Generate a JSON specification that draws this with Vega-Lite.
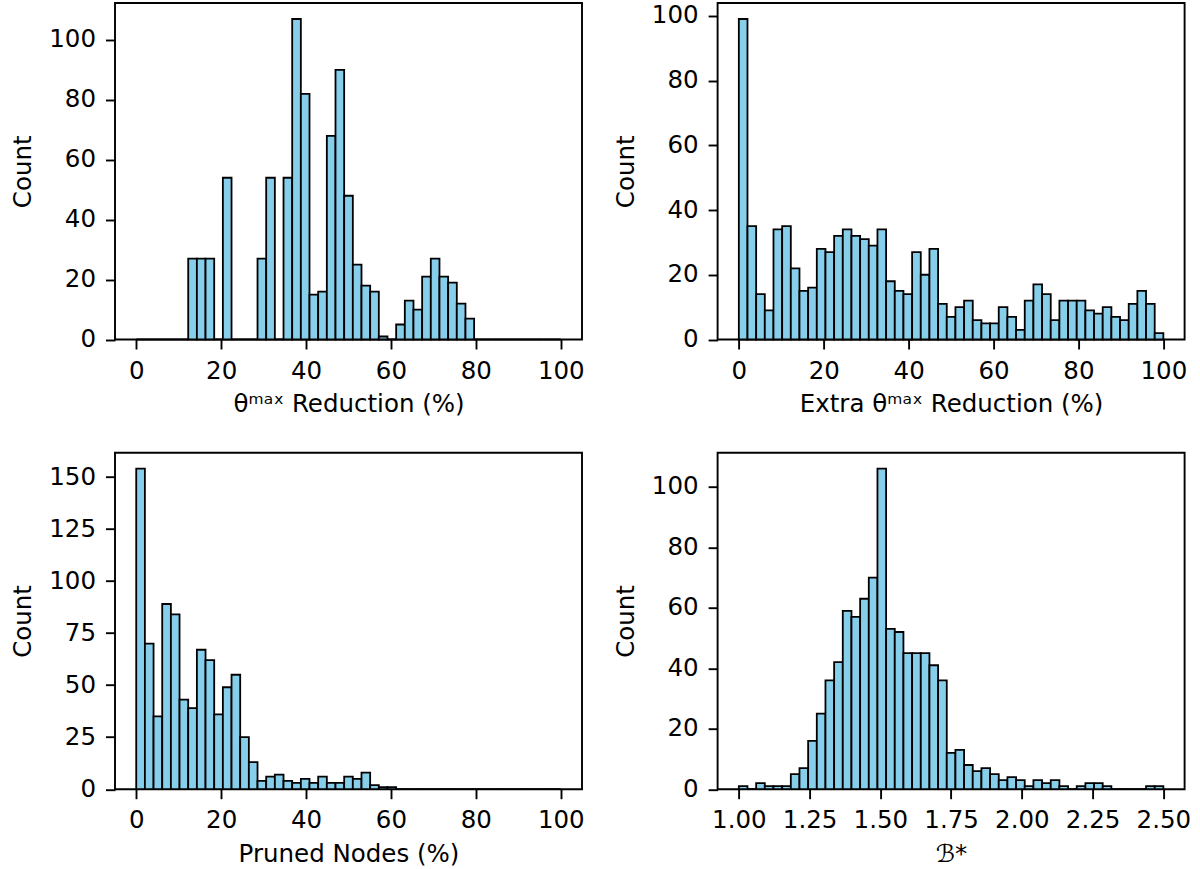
{
  "$schema": "https://vega.github.io/schema/vega-lite/v6.json",
  "background": "white",
  "padding": {"left": 9, "top": 1, "right": 5, "bottom": 5},
  "columns": 2,
  "spacing": {"row": 112.7, "column": 135.6},
  "bounds": "flush",
  "concat": [
    {
      "width": 467, "height": 336.5,
      "data": {"values": [
        {"start":0,"end":2.041,"count":0},{"start":2.041,"end":4.082,"count":0},{"start":4.082,"end":6.122,"count":0},{"start":6.122,"end":8.163,"count":0},{"start":8.163,"end":10.204,"count":0},{"start":10.204,"end":12.245,"count":0},{"start":12.245,"end":14.286,"count":27},{"start":14.286,"end":16.327,"count":27},{"start":16.327,"end":18.367,"count":27},{"start":18.367,"end":20.408,"count":0},{"start":20.408,"end":22.449,"count":54},{"start":22.449,"end":24.49,"count":0},{"start":24.49,"end":26.531,"count":0},{"start":26.531,"end":28.571,"count":0},{"start":28.571,"end":30.612,"count":27},{"start":30.612,"end":32.653,"count":54},{"start":32.653,"end":34.694,"count":0},{"start":34.694,"end":36.735,"count":54},{"start":36.735,"end":38.776,"count":107},{"start":38.776,"end":40.816,"count":82},{"start":40.816,"end":42.857,"count":15},{"start":42.857,"end":44.898,"count":16},{"start":44.898,"end":46.939,"count":68},{"start":46.939,"end":48.98,"count":90},{"start":48.98,"end":51.02,"count":48},{"start":51.02,"end":53.061,"count":25},{"start":53.061,"end":55.102,"count":18},{"start":55.102,"end":57.143,"count":16},{"start":57.143,"end":59.184,"count":1},{"start":59.184,"end":61.224,"count":0},{"start":61.224,"end":63.265,"count":5},{"start":63.265,"end":65.306,"count":13},{"start":65.306,"end":67.347,"count":10},{"start":67.347,"end":69.388,"count":21},{"start":69.388,"end":71.429,"count":27},{"start":71.429,"end":73.469,"count":21},{"start":73.469,"end":75.51,"count":19},{"start":75.51,"end":77.551,"count":12},{"start":77.551,"end":79.592,"count":7},{"start":79.592,"end":81.633,"count":0},{"start":81.633,"end":83.673,"count":0},{"start":83.673,"end":85.714,"count":0},{"start":85.714,"end":87.755,"count":0},{"start":87.755,"end":89.796,"count":0},{"start":89.796,"end":91.837,"count":0},{"start":91.837,"end":93.878,"count":0},{"start":93.878,"end":95.918,"count":0},{"start":95.918,"end":97.959,"count":0},{"start":97.959,"end":100,"count":0}
      ]},
      "mark": {"type": "bar"},
      "encoding": {
        "x": {"field": "start", "type": "quantitative", "scale": {"domain": [-5, 105], "nice": false, "zero": false}, "axis": {"values": [0,20,40,60,80,100], "title": "θᵐᵃˣ Reduction (%)"}},
        "x2": {"field": "end"},
        "y": {"field": "count", "type": "quantitative", "scale": {"domain": [0, 112.35], "nice": false}, "axis": {"values": [0,20,40,60,80,100], "title": "Count", "titlePadding": 13}},
        "y2": {"datum": 0}
      }
    },
    {
      "width": 467, "height": 336.5,
      "data": {"values": [
        {"start":0,"end":2.041,"count":99},{"start":2.041,"end":4.082,"count":35},{"start":4.082,"end":6.122,"count":14},{"start":6.122,"end":8.163,"count":9},{"start":8.163,"end":10.204,"count":34},{"start":10.204,"end":12.245,"count":35},{"start":12.245,"end":14.286,"count":22},{"start":14.286,"end":16.327,"count":15},{"start":16.327,"end":18.367,"count":16},{"start":18.367,"end":20.408,"count":28},{"start":20.408,"end":22.449,"count":27},{"start":22.449,"end":24.49,"count":32},{"start":24.49,"end":26.531,"count":34},{"start":26.531,"end":28.571,"count":32},{"start":28.571,"end":30.612,"count":31},{"start":30.612,"end":32.653,"count":29},{"start":32.653,"end":34.694,"count":34},{"start":34.694,"end":36.735,"count":18},{"start":36.735,"end":38.776,"count":15},{"start":38.776,"end":40.816,"count":14},{"start":40.816,"end":42.857,"count":27},{"start":42.857,"end":44.898,"count":20},{"start":44.898,"end":46.939,"count":28},{"start":46.939,"end":48.98,"count":11},{"start":48.98,"end":51.02,"count":7},{"start":51.02,"end":53.061,"count":10},{"start":53.061,"end":55.102,"count":12},{"start":55.102,"end":57.143,"count":6},{"start":57.143,"end":59.184,"count":5},{"start":59.184,"end":61.224,"count":5},{"start":61.224,"end":63.265,"count":10},{"start":63.265,"end":65.306,"count":7},{"start":65.306,"end":67.347,"count":3},{"start":67.347,"end":69.388,"count":12},{"start":69.388,"end":71.429,"count":17},{"start":71.429,"end":73.469,"count":14},{"start":73.469,"end":75.51,"count":6},{"start":75.51,"end":77.551,"count":12},{"start":77.551,"end":79.592,"count":12},{"start":79.592,"end":81.633,"count":12},{"start":81.633,"end":83.673,"count":9},{"start":83.673,"end":85.714,"count":8},{"start":85.714,"end":87.755,"count":10},{"start":87.755,"end":89.796,"count":7},{"start":89.796,"end":91.837,"count":6},{"start":91.837,"end":93.878,"count":11},{"start":93.878,"end":95.918,"count":15},{"start":95.918,"end":97.959,"count":11},{"start":97.959,"end":100,"count":2}
      ]},
      "mark": {"type": "bar"},
      "encoding": {
        "x": {"field": "start", "type": "quantitative", "scale": {"domain": [-5, 105], "nice": false, "zero": false}, "axis": {"values": [0,20,40,60,80,100], "title": "Extra θᵐᵃˣ Reduction (%)"}},
        "x2": {"field": "end"},
        "y": {"field": "count", "type": "quantitative", "scale": {"domain": [0, 103.95], "nice": false}, "axis": {"values": [0,20,40,60,80,100], "title": "Count", "titlePadding": 13}},
        "y2": {"datum": 0}
      }
    },
    {
      "width": 467, "height": 336.5,
      "data": {"values": [
        {"start":0,"end":2.041,"count":154},{"start":2.041,"end":4.082,"count":70},{"start":4.082,"end":6.122,"count":35},{"start":6.122,"end":8.163,"count":89},{"start":8.163,"end":10.204,"count":84},{"start":10.204,"end":12.245,"count":43},{"start":12.245,"end":14.286,"count":39},{"start":14.286,"end":16.327,"count":67},{"start":16.327,"end":18.367,"count":62},{"start":18.367,"end":20.408,"count":36},{"start":20.408,"end":22.449,"count":49},{"start":22.449,"end":24.49,"count":55},{"start":24.49,"end":26.531,"count":25},{"start":26.531,"end":28.571,"count":13},{"start":28.571,"end":30.612,"count":4},{"start":30.612,"end":32.653,"count":6},{"start":32.653,"end":34.694,"count":7},{"start":34.694,"end":36.735,"count":4},{"start":36.735,"end":38.776,"count":3},{"start":38.776,"end":40.816,"count":5},{"start":40.816,"end":42.857,"count":3},{"start":42.857,"end":44.898,"count":6},{"start":44.898,"end":46.939,"count":3},{"start":46.939,"end":48.98,"count":3},{"start":48.98,"end":51.02,"count":6},{"start":51.02,"end":53.061,"count":5},{"start":53.061,"end":55.102,"count":8},{"start":55.102,"end":57.143,"count":2},{"start":57.143,"end":59.184,"count":1},{"start":59.184,"end":61.224,"count":1},{"start":61.224,"end":63.265,"count":0},{"start":63.265,"end":65.306,"count":0},{"start":65.306,"end":67.347,"count":0},{"start":67.347,"end":69.388,"count":0},{"start":69.388,"end":71.429,"count":0},{"start":71.429,"end":73.469,"count":0},{"start":73.469,"end":75.51,"count":0},{"start":75.51,"end":77.551,"count":0},{"start":77.551,"end":79.592,"count":0},{"start":79.592,"end":81.633,"count":0},{"start":81.633,"end":83.673,"count":0},{"start":83.673,"end":85.714,"count":0},{"start":85.714,"end":87.755,"count":0},{"start":87.755,"end":89.796,"count":0},{"start":89.796,"end":91.837,"count":0},{"start":91.837,"end":93.878,"count":0},{"start":93.878,"end":95.918,"count":0},{"start":95.918,"end":97.959,"count":0},{"start":97.959,"end":100,"count":0}
      ]},
      "mark": {"type": "bar"},
      "encoding": {
        "x": {"field": "start", "type": "quantitative", "scale": {"domain": [-5, 105], "nice": false, "zero": false}, "axis": {"values": [0,20,40,60,80,100], "title": "Pruned Nodes (%)"}},
        "x2": {"field": "end"},
        "y": {"field": "count", "type": "quantitative", "scale": {"domain": [0, 161.7], "nice": false}, "axis": {"values": [0,25,50,75,100,125,150], "title": "Count", "titlePadding": 13}},
        "y2": {"datum": 0}
      }
    },
    {
      "width": 467, "height": 336.5,
      "data": {"values": [
        {"start":1,"end":1.0306,"count":1},{"start":1.0306,"end":1.0612,"count":0},{"start":1.0612,"end":1.0918,"count":2},{"start":1.0918,"end":1.1224,"count":1},{"start":1.1224,"end":1.1531,"count":1},{"start":1.1531,"end":1.1837,"count":1},{"start":1.1837,"end":1.2143,"count":5},{"start":1.2143,"end":1.2449,"count":7},{"start":1.2449,"end":1.2755,"count":16},{"start":1.2755,"end":1.3061,"count":25},{"start":1.3061,"end":1.3367,"count":36},{"start":1.3367,"end":1.3673,"count":42},{"start":1.3673,"end":1.398,"count":59},{"start":1.398,"end":1.4286,"count":57},{"start":1.4286,"end":1.4592,"count":63},{"start":1.4592,"end":1.4898,"count":70},{"start":1.4898,"end":1.5204,"count":106},{"start":1.5204,"end":1.551,"count":53},{"start":1.551,"end":1.5816,"count":52},{"start":1.5816,"end":1.6122,"count":45},{"start":1.6122,"end":1.6429,"count":45},{"start":1.6429,"end":1.6735,"count":45},{"start":1.6735,"end":1.7041,"count":41},{"start":1.7041,"end":1.7347,"count":36},{"start":1.7347,"end":1.7653,"count":12},{"start":1.7653,"end":1.7959,"count":13},{"start":1.7959,"end":1.8265,"count":8},{"start":1.8265,"end":1.8571,"count":6},{"start":1.8571,"end":1.8878,"count":7},{"start":1.8878,"end":1.9184,"count":5},{"start":1.9184,"end":1.949,"count":3},{"start":1.949,"end":1.9796,"count":4},{"start":1.9796,"end":2.0102,"count":3},{"start":2.0102,"end":2.0408,"count":1},{"start":2.0408,"end":2.0714,"count":3},{"start":2.0714,"end":2.102,"count":2},{"start":2.102,"end":2.1327,"count":3},{"start":2.1327,"end":2.1633,"count":1},{"start":2.1633,"end":2.1939,"count":0},{"start":2.1939,"end":2.2245,"count":1},{"start":2.2245,"end":2.2551,"count":2},{"start":2.2551,"end":2.2857,"count":2},{"start":2.2857,"end":2.3163,"count":1},{"start":2.3163,"end":2.3469,"count":0},{"start":2.3469,"end":2.3776,"count":0},{"start":2.3776,"end":2.4082,"count":0},{"start":2.4082,"end":2.4388,"count":0},{"start":2.4388,"end":2.4694,"count":1},{"start":2.4694,"end":2.5,"count":1}
      ]},
      "mark": {"type": "bar"},
      "encoding": {
        "x": {"field": "start", "type": "quantitative", "scale": {"domain": [0.925, 2.575], "nice": false, "zero": false}, "axis": {"values": [1,1.25,1.5,1.75,2,2.25,2.5], "format": ".2f", "title": "ℬ*"}},
        "x2": {"field": "end"},
        "y": {"field": "count", "type": "quantitative", "scale": {"domain": [0, 111.3], "nice": false}, "axis": {"values": [0,20,40,60,80,100], "title": "Count", "titlePadding": 13}},
        "y2": {"datum": 0}
      }
    }
  ],
  "config": {
    "view": {"stroke": "black", "strokeWidth": 1.9},
    "axis": {
      "grid": false, "domain": false, "tickColor": "black", "tickWidth": 1.9, "tickSize": 9.5,
      "labelFont": "DejaVu Sans", "labelFontSize": 24.5, "labelColor": "black", "labelPadding": 10, "labelFlush": false, "labelOverlap": false,
      "titleFont": "DejaVu Sans", "titleFontSize": 24.5, "titleFontWeight": "normal", "titleColor": "black", "titlePadding": 10
    },
    "bar": {"fill": "#87CEEB", "stroke": "black", "strokeWidth": 1.8}
  }
}
